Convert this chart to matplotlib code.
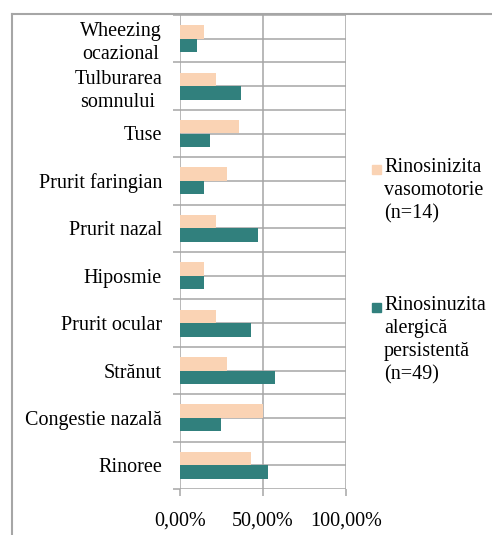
import matplotlib
matplotlib.use("Agg")
import matplotlib.pyplot as plt
from matplotlib.lines import Line2D
from matplotlib.patches import Rectangle
import numpy as np

# categories top -> bottom, values in %
categories = ["Wheezing\nocazional", "Tulburarea\nsomnului", "Tuse", "Prurit faringian",
              "Prurit nazal", "Hiposmie", "Prurit ocular", "Strănut",
              "Congestie nazală", "Rinoree"]
vasomotorie = [14.29, 21.43, 35.71, 28.57, 21.43, 14.29, 21.43, 28.57, 50.00, 42.86]
alergica = [10.20, 36.73, 18.37, 14.29, 46.94, 14.29, 42.86, 57.14, 24.49, 53.06]
xticks = [0, 50, 100]
xticklabels = ["0,00%", "50,00%", "100,00%"]
series_labels = ["Rinosinizita\nvasomotorie\n(n=14)",
                 "Rinosinuzita\nalergică\npersistentă\n(n=49)"]

PEACH = "#FAD3B4"
TEAL = "#31807D"
GRID = "#A6A6A6"
FS = 14.5

plt.rcParams["font.family"] = ["Liberation Serif", "DejaVu Serif"]

W, H = 492, 535
fig = plt.figure(figsize=(W / 100, H / 100), dpi=100)
ax = fig.add_axes([180 / W, 1 - 489 / H, (346 - 180) / W, (489 - 15) / H])

y = np.arange(len(categories))
h = 0.285
ax.barh(y - h / 2, vasomotorie, height=h, color=PEACH, zorder=3)
ax.barh(y + h / 2, alergica, height=h, color=TEAL, zorder=3)

ax.set_xlim(0, 100)
ax.set_ylim(len(categories) - 0.5, -0.5)

# gridlines: vertical at ticks, horizontal at centres and boundaries
for xv in xticks:
    ax.axvline(xv, color=GRID, lw=1.1, zorder=1)
for yv in np.arange(-0.5, len(categories), 0.5):
    ax.axhline(yv, color=GRID, lw=1.1, zorder=1)

for s in ax.spines.values():
    s.set_visible(False)

ax.set_xticks(xticks)
ax.set_xticklabels(xticklabels, fontsize=FS)
ax.tick_params(axis="x", length=5, color=GRID, width=1.1, pad=11)

ax.set_yticks(y)
ax.set_yticklabels(categories, fontsize=FS, multialignment="center", linespacing=1.28)
ax.set_yticks(np.arange(-0.5, len(categories), 1), minor=True)
ax.tick_params(axis="y", which="major", length=0, pad=13)
ax.tick_params(axis="y", which="minor", length=5, color=GRID, width=1.1)

# outer frame (top and left only)
fig.add_artist(Line2D([12 / W, 12 / W], [0, 1 - 14 / H], color=GRID, lw=1.5))
fig.add_artist(Line2D([12 / W, 1], [1 - 14 / H, 1 - 14 / H], color=GRID, lw=1.5))

# legend drawn by hand (Excel style: marker next to first line)
legend_pos = [(158, 0), (296, 1)]
for (ytop, i), color in zip(legend_pos, [PEACH, TEAL]):
    fig.text(384 / W, 1 - ytop / H, series_labels[i], fontsize=FS,
             va="top", ha="left", linespacing=1.3)
    fig.add_artist(Rectangle((372 / W, 1 - (ytop + 16) / H), 9 / W, 9 / H,
                             transform=fig.transFigure, color=color))

fig.savefig("out.png", dpi=100)
